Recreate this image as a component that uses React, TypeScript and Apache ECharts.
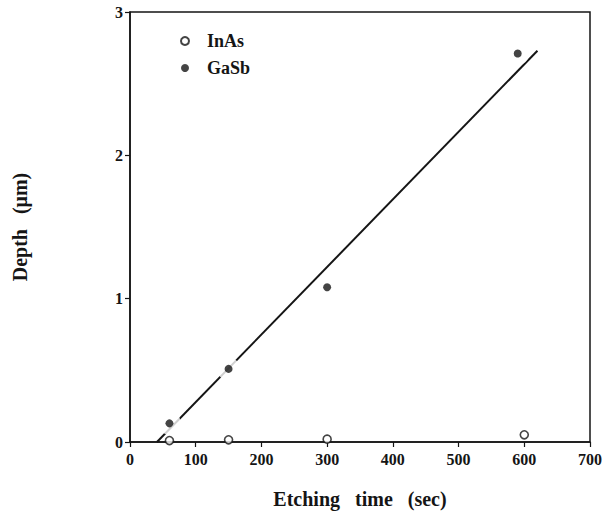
import React, { useEffect, useRef } from "react";
import * as echarts from "echarts";

const inAsTime = [60, 150, 300, 600];
const inAsDepth = [0.01, 0.015, 0.02, 0.05];
const gaSbTime = [60, 150, 300, 590];
const gaSbDepth = [0.13, 0.51, 1.08, 2.71];
const fitTime = [41, 620];
const fitDepth = [0, 2.73];
const xTickValues = [0, 100, 200, 300, 400, 500, 600, 700];
const yTickValues = [0, 1, 2, 3];

const INK = "#151515";
const FONT = "'Liberation Serif', 'Times New Roman', serif";

const pairs = (xs: number[], ys: number[]) => xs.map((x, i) => [x, ys[i]]);

export default function App() {
  const ref = useRef<HTMLDivElement>(null);
  useEffect(() => {
    if (!ref.current) return;
    const chart = echarts.init(ref.current, undefined, { renderer: "svg" });
    chart.setOption({
      animation: false,
      backgroundColor: "#ffffff",
      grid: {
        left: 130,
        right: 15,
        top: 12,
        bottom: 71,
        outerBoundsMode: "none",
        containLabel: false,
        show: true,
        borderColor: INK,
        borderWidth: 1.5,
        backgroundColor: "transparent",
      },
      legend: {
        data: ["InAs", "GaSb"],
        orient: "vertical",
        left: 175,
        top: 27,
        itemWidth: 8,
        itemHeight: 8,
        itemGap: 9,
        textStyle: { fontFamily: FONT, fontWeight: "bold", fontSize: 18, color: INK, padding: [0, 0, 0, 13] },
      },
      xAxis: {
        type: "value",
        min: xTickValues[0],
        max: xTickValues[xTickValues.length - 1],
        interval: 100,
        name: "Etching   time   (sec)",
        nameLocation: "middle",
        nameGap: 47,
        nameTextStyle: { fontFamily: FONT, fontWeight: "bold", fontSize: 20, color: INK },
        axisLine: { show: true, lineStyle: { color: INK, width: 1.5 } },
        axisTick: { show: true, inside: false, length: 5, lineStyle: { color: INK, width: 1.2 } },
        axisLabel: { fontFamily: FONT, fontWeight: "bold", fontSize: 16, color: INK, margin: 9 },
        splitLine: { show: false },
      },
      yAxis: {
        type: "value",
        min: yTickValues[0],
        max: yTickValues[yTickValues.length - 1],
        interval: 1,
        name: "Depth   (μm)",
        nameLocation: "middle",
        nameGap: 100,
        nameTextStyle: { fontFamily: FONT, fontWeight: "bold", fontSize: 20, color: INK },
        axisLine: { show: true, lineStyle: { color: INK, width: 1.5 } },
        axisTick: { show: true, inside: false, length: 5, lineStyle: { color: INK, width: 1.2 } },
        axisLabel: { fontFamily: FONT, fontWeight: "bold", fontSize: 16, color: INK, margin: 7 },
        splitLine: { show: false },
      },
      series: [
        {
          name: "fit",
          type: "line",
          data: pairs(fitTime, fitDepth),
          showSymbol: false,
          symbol: "none",
          lineStyle: { color: INK, width: 2 },
          z: 1,
          silent: true,
        },
        {
          name: "mask",
          type: "scatter",
          data: pairs(gaSbTime, gaSbDepth),
          symbol: "circle",
          symbolSize: 23,
          itemStyle: { color: "#ffffff" },
          z: 2,
          silent: true,
        },
        {
          name: "GaSb",
          type: "scatter",
          data: pairs(gaSbTime, gaSbDepth),
          symbol: "circle",
          symbolSize: 8,
          itemStyle: { color: INK },
          z: 3,
        },
        {
          name: "InAs",
          type: "scatter",
          data: pairs(inAsTime, inAsDepth),
          symbol: "circle",
          symbolSize: 8,
          itemStyle: { color: "#ffffff", borderColor: INK, borderWidth: 1.6 },
          z: 4,
        },
      ],
    });
    return () => chart.dispose();
  }, []);
  return (
    <div
      ref={ref}
      style={{ position: "absolute", left: 0, top: 0, width: 605, height: 513 }}
    />
  );
}
